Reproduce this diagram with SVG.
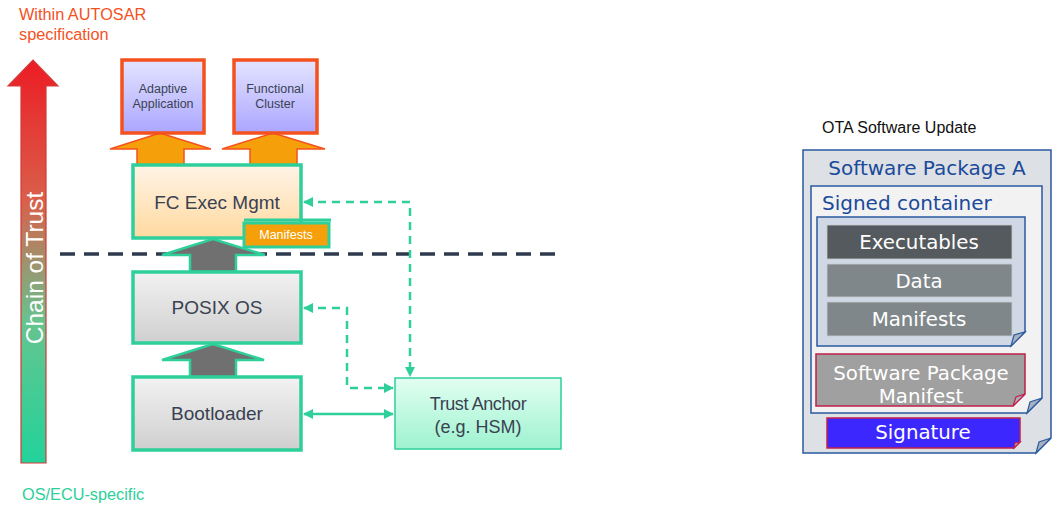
<svg xmlns="http://www.w3.org/2000/svg" width="1053" height="506" viewBox="0 0 1053 506">
  <defs>
    <linearGradient id="gTrust" x1="0" y1="0" x2="0" y2="1">
      <stop offset="0" stop-color="#ec1c24"/>
      <stop offset="0.35" stop-color="#d9604a"/>
      <stop offset="0.65" stop-color="#66c48f"/>
      <stop offset="1" stop-color="#22d39a"/>
    </linearGradient>
    <linearGradient id="gApp" x1="0" y1="0" x2="0" y2="1">
      <stop offset="0" stop-color="#e4e4ff"/>
      <stop offset="1" stop-color="#aba6ff"/>
    </linearGradient>
    <linearGradient id="gExec" x1="0" y1="0" x2="0" y2="1">
      <stop offset="0" stop-color="#fff4e6"/>
      <stop offset="1" stop-color="#ffd9a0"/>
    </linearGradient>
    <linearGradient id="gGray" x1="0" y1="0" x2="0" y2="1">
      <stop offset="0" stop-color="#f2f2f2"/>
      <stop offset="1" stop-color="#cfcfcf"/>
    </linearGradient>
    <linearGradient id="gAnchor" x1="0" y1="0" x2="0" y2="1">
      <stop offset="0" stop-color="#e2fff2"/>
      <stop offset="1" stop-color="#9ef2cf"/>
    </linearGradient>
    <marker id="mArr" viewBox="0 0 10 10" refX="9" refY="5" markerWidth="4" markerHeight="4" orient="auto-start-reverse">
      <path d="M0,0 L10,5 L0,10 Z" fill="#2ecf9a"/>
    </marker>
    <style>
      .sans { font-family: "Liberation Sans", Arial, sans-serif; }
      .dv { font-family: "DejaVu Sans", Verdana, sans-serif; }
      .app { fill: url(#gApp); stroke: #f4511e; stroke-width: 3.5; }
      .upO { fill: #f5a00a; stroke: #f4511e; stroke-width: 1.5; }
      .upG { fill: #707070; stroke: #2ecf9a; stroke-width: 2.5; }
      .layer { stroke: #2ecf9a; stroke-width: 3.5; }
      .lbl { fill: #3a4252; text-anchor: middle; }
      .dash { fill: none; stroke: #2ecf9a; stroke-width: 2.5; stroke-dasharray: 8 6; }
      .pkgBox { stroke: #2a5aa0; stroke-width: 1.5; }
      .fold { fill: #a9b2bc; stroke: #2a5aa0; stroke-width: 1.2; }
      .foldR { fill: #a9b2bc; stroke: #c0204a; stroke-width: 1.2; }
      .blue { fill: #1a4a9a; }
      .wt { fill: #ffffff; text-anchor: middle; }
    </style>
  </defs>

  <!-- Chain of trust axis -->
  <g id="chain-of-trust">
    <path d="M21,463 V86 H8 L33,60 L58,86 H46 V463 Z" fill="url(#gTrust)" stroke="#d33a3a" stroke-width="1.2"/>
    <text class="sans" x="0" y="0" font-size="24.5" fill="#ffffff" text-anchor="middle" transform="translate(43,268) rotate(-90)">Chain of Trust</text>
  </g>
  <text class="sans" x="19" y="20" font-size="16.3" fill="#f4511e">Within AUTOSAR</text>
  <text class="sans" x="19" y="40" font-size="16.3" fill="#f4511e">specification</text>
  <text class="sans" x="22" y="500" font-size="16.3" fill="#2ecf9a">OS/ECU-specific</text>

  <!-- Boundary between AUTOSAR and platform -->
  <line x1="60" y1="254" x2="556" y2="254" stroke="#2e3a4e" stroke-width="3.5" stroke-dasharray="15 9"/>

  <!-- Connectors -->
  <g id="connectors">
    <path class="upO" d="M137,165 V149 H110 L160,133 L211,149 H184 V165 Z"/>
    <path class="upO" d="M250,165 V149 H222 L273,133 L325,149 H297 V165 Z"/>
    <path class="upG" d="M190,272 V255 H162 L213,239 L265,255 H236 V272 Z"/>
    <path class="upG" d="M190,377 V360 H162 L213,344 L264,360 H236 V377 Z"/>
    <path class="dash" d="M304,202 H410 V376" marker-start="url(#mArr)" marker-end="url(#mArr)"/>
    <path class="dash" d="M304,308 H347 V388 H393" marker-start="url(#mArr)" marker-end="url(#mArr)"/>
    <line x1="304" y1="414" x2="393" y2="414" stroke="#2ecf9a" stroke-width="2.5" marker-start="url(#mArr)" marker-end="url(#mArr)"/>
  </g>

  <g id="adaptive-application">
    <rect class="app" x="122" y="60" width="82" height="73"/>
    <text class="sans lbl" x="163" y="93" font-size="12.5">Adaptive</text>
    <text class="sans lbl" x="163" y="108" font-size="12.5">Application</text>
  </g>
  <g id="functional-cluster">
    <rect class="app" x="234" y="60" width="83" height="73"/>
    <text class="sans lbl" x="275" y="93" font-size="12.5">Functional</text>
    <text class="sans lbl" x="275" y="108" font-size="12.5">Cluster</text>
  </g>

  <g id="fc-exec-mgmt">
    <rect class="layer" x="133" y="165" width="168" height="73" fill="url(#gExec)"/>
    <text class="sans lbl" x="217" y="209" font-size="19">FC Exec Mgmt</text>
  </g>
  <g id="manifests-tab">
    <path d="M244,220 H331" stroke="#2ecf9a" stroke-width="3"/>
    <rect x="244" y="223" width="85" height="24" fill="#f5a00a" stroke="#2ecf9a" stroke-width="3"/>
    <text class="sans wt" x="286" y="239" font-size="12.5">Manifests</text>
  </g>

  <g id="posix-os">
    <rect class="layer" x="133" y="272" width="168" height="71" fill="url(#gGray)"/>
    <text class="sans lbl" x="217" y="314" font-size="19">POSIX OS</text>
  </g>
  <g id="bootloader">
    <rect class="layer" x="133" y="377" width="168" height="73" fill="url(#gGray)"/>
    <text class="sans lbl" x="217" y="420" font-size="19">Bootloader</text>
  </g>
  <g id="trust-anchor">
    <rect x="395" y="378" width="166" height="71" fill="url(#gAnchor)" stroke="#2ecf9a" stroke-width="1.5"/>
    <text class="sans lbl" x="478" y="410" font-size="18" letter-spacing="-0.4">Trust Anchor</text>
    <text class="sans lbl" x="478" y="433" font-size="18">(e.g. HSM)</text>
  </g>

  <!-- OTA software package -->
  <text class="sans" x="822" y="133" font-size="16" fill="#111111">OTA Software Update</text>
  <g id="software-package-a">
    <path class="pkgBox" d="M803,150 H1051 V438 L1036,453 H803 Z" fill="#dde0e4"/>
    <path class="fold" d="M1051,438 L1036,453 L1039,442 Z"/>
    <text class="dv blue" x="927" y="175" font-size="20" text-anchor="middle">Software Package A</text>
  </g>
  <g id="signed-container">
    <path class="pkgBox" d="M811,186 H1042 V398 L1027,413 H811 Z" fill="#f2f2f2"/>
    <path class="fold" d="M1042,398 L1027,413 L1030,402 Z"/>
    <text class="dv blue" x="822" y="210" font-size="20">Signed container</text>
  </g>
  <g id="payload">
    <path class="pkgBox" d="M817,217 H1025 V332 L1011,346 H817 Z" fill="#cfd8e4"/>
    <path class="fold" d="M1025,332 L1011,346 L1014,335 Z"/>
  </g>
  <g id="executables">
    <rect x="827" y="225" width="185" height="34" fill="#555a5e" stroke="#c8ccd0" stroke-width="0.8"/>
    <text class="dv wt" x="919" y="249" font-size="19.8">Executables</text>
  </g>
  <g id="data">
    <rect x="827" y="264" width="185" height="33" fill="#80878a" stroke="#c8ccd0" stroke-width="0.8"/>
    <text class="dv wt" x="919" y="288" font-size="19.8">Data</text>
  </g>
  <g id="manifests">
    <rect x="827" y="302" width="185" height="34" fill="#80878a" stroke="#c8ccd0" stroke-width="0.8"/>
    <text class="dv wt" x="919" y="326" font-size="19.8">Manifests</text>
  </g>
  <g id="software-package-manifest">
    <path d="M816,354 H1025 V394 L1013,406 H816 Z" fill="#a0a0a0" stroke="#c0204a" stroke-width="1.5"/>
    <path class="foldR" d="M1025,394 L1013,406 L1016,397 Z"/>
    <text class="dv wt" x="921" y="380" font-size="19.8">Software Package</text>
    <text class="dv wt" x="921" y="403" font-size="19.8">Manifest</text>
  </g>
  <g id="signature">
    <path d="M827,418 H1020 V442 L1014,448 H827 Z" fill="#3c28ff" stroke="#c0204a" stroke-width="1.5"/>
    <path class="foldR" d="M1020,442 L1014,448 L1015,443 Z"/>
    <text class="dv wt" x="923" y="439" font-size="19.8">Signature</text>
  </g>
</svg>
